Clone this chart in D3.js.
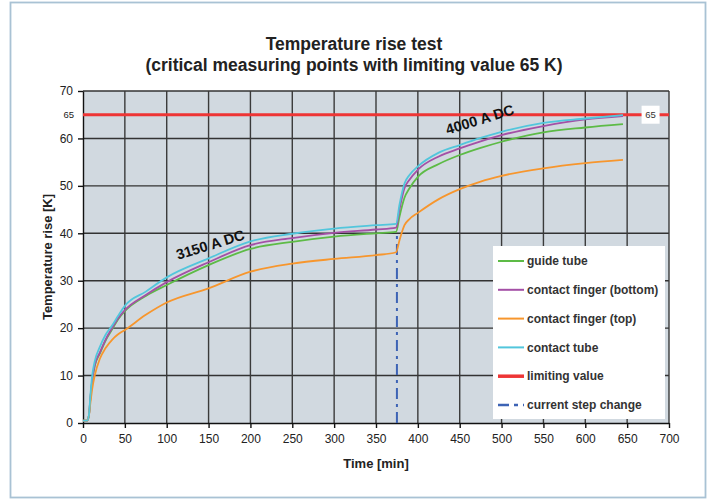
<!DOCTYPE html>
<html>
<head>
<meta charset="utf-8">
<script src="https://cdn.jsdelivr.net/npm/d3@7"></script>
<style>
  body { margin: 0; background: #fff; }
  svg { display: block; font-family: "Liberation Sans", Arial, sans-serif; }
</style>
</head>
<body>
<svg id="chart"></svg>
<script>
// time axis (min) shared by all measured series
const timeMin = [0, 5, 7, 9, 11, 14, 20, 27, 35, 42, 50, 75, 100, 150, 200, 250, 300, 350, 374, 378, 384, 390, 400, 425, 450, 475, 500, 550, 600, 645];

const guideTube =     [0.5, 0.5, 1.5, 5.5, 8.8, 12.0, 14.6, 17.4, 19.8, 21.9, 23.6, 26.8, 29.1, 33.3, 36.7, 38.2, 39.3, 40.0, 40.3, 43.5, 47.5, 49.5, 51.9, 54.6, 56.5, 58.0, 59.3, 61.3, 62.3, 63.0];
const fingerBottom =  [0.5, 0.5, 1.5, 5.6, 9.0, 12.2, 14.8, 17.6, 20.1, 22.1, 23.8, 27.0, 29.7, 33.9, 37.5, 39.0, 40.1, 40.8, 41.2, 45.0, 49.5, 51.3, 53.4, 56.2, 57.9, 59.4, 60.7, 62.6, 64.0, 64.7];
const fingerTop =     [0.5, 0.5, 1.5, 4.5, 7.2, 10.0, 13.5, 15.8, 17.6, 18.7, 19.6, 22.8, 25.4, 28.4, 31.9, 33.6, 34.6, 35.4, 36.0, 38.5, 41.7, 43.0, 44.3, 47.2, 49.3, 50.9, 52.1, 53.7, 54.8, 55.5];
const contactTube =   [0.5, 0.5, 1.6, 6.2, 10.0, 13.0, 16.0, 18.6, 20.6, 22.6, 24.7, 27.7, 30.7, 34.7, 38.3, 39.9, 41.0, 41.7, 42.0, 46.0, 50.5, 52.3, 54.1, 57.0, 58.6, 60.1, 61.4, 63.3, 64.2, 64.9];

const limitValue = 65;
const stepTime = 375;
const stepTop = 40;

const xTicks = d3.range(0, 701, 50);
const yTicks = d3.range(0, 71, 10);

const seriesNames = ["guide tube", "contact finger (bottom)", "contact finger (top)", "contact tube"];
const seriesColors = ["#5dbb46", "#a450a6", "#f7962d", "#52c6dc"];
const seriesValues = [guideTube, fingerBottom, fingerTop, contactTube];

const W = 713, H = 500;
const margin = { top: 91, right: 44, bottom: 77, left: 83 };
const width = W - margin.left - margin.right;
const height = H - margin.top - margin.bottom;

const svg = d3.select("#chart").attr("width", W).attr("height", H);

// outer frame
svg.append("rect")
  .attr("x", 10.5).attr("y", 2.5)
  .attr("width", 695).attr("height", 495)
  .attr("fill", "#fff")
  .attr("stroke", "#a9c2d4")
  .attr("stroke-width", 1.8);

svg.append("text")
  .attr("x", 354).attr("y", 50)
  .attr("text-anchor", "middle")
  .attr("font-size", 17.5).attr("font-weight", "bold").attr("fill", "#222")
  .text("Temperature rise test");
svg.append("text")
  .attr("x", 354).attr("y", 71)
  .attr("text-anchor", "middle")
  .attr("font-size", 17.5).attr("font-weight", "bold").attr("fill", "#222")
  .text("(critical measuring points with limiting value 65 K)");

const chart = svg.append("g")
  .attr("transform", `translate(${margin.left},${margin.top})`);

const x = d3.scaleLinear().domain([0, 700]).range([0, width]);
const y = d3.scaleLinear().domain([0, 70]).range([height, 0]);

chart.append("rect")
  .attr("width", width).attr("height", height)
  .attr("fill", "#d1d9e0");

// grid
chart.append("g").selectAll("line")
  .data(yTicks.filter(d => d > 0))
  .join("line")
  .attr("x1", 0).attr("x2", width)
  .attr("y1", d => y(d)).attr("y2", d => y(d))
  .attr("stroke", "#333").attr("stroke-width", 1.4);

chart.append("g").selectAll("line")
  .data(xTicks.filter(d => d > 0))
  .join("line")
  .attr("x1", d => x(d)).attr("x2", d => x(d))
  .attr("y1", 0).attr("y2", height)
  .attr("stroke", "#3a3a3a").attr("stroke-width", 1.4);

// axes
const xAxis = chart.append("g")
  .attr("transform", `translate(0,${height})`)
  .call(d3.axisBottom(x).tickValues(xTicks).tickSize(5).tickPadding(6).tickSizeOuter(0));
const yAxis = chart.append("g")
  .call(d3.axisLeft(y).tickValues(yTicks).tickSize(5).tickPadding(5).tickSizeOuter(0));
[xAxis, yAxis].forEach(a => {
  a.selectAll("path, line").attr("stroke", "#111").attr("stroke-width", 1.4);
  a.selectAll("text").attr("font-size", 12).attr("fill", "#222").attr("font-family", "Liberation Sans, Arial, sans-serif");
});

chart.append("text")
  .attr("x", -9).attr("y", y(limitValue))
  .attr("dy", "0.35em")
  .attr("text-anchor", "end")
  .attr("font-size", 9.5).attr("fill", "#222")
  .text(limitValue);

// limiting value
chart.append("line")
  .attr("x1", x(0)).attr("x2", x(700))
  .attr("y1", y(limitValue)).attr("y2", y(limitValue))
  .attr("stroke", "#ee3535").attr("stroke-width", 3);

const lblX = x(678);
chart.append("rect")
  .attr("x", lblX - 9).attr("y", y(limitValue) - 9)
  .attr("width", 18).attr("height", 18)
  .attr("fill", "#fff");
chart.append("text")
  .attr("x", lblX).attr("y", y(limitValue))
  .attr("dy", "0.35em").attr("text-anchor", "middle")
  .attr("font-size", 9.5).attr("fill", "#333")
  .text(limitValue);

// step change marker
chart.append("line")
  .attr("x1", x(stepTime)).attr("x2", x(stepTime))
  .attr("y1", y(0)).attr("y2", y(stepTop))
  .attr("stroke", "#3d63b5").attr("stroke-width", 2)
  .attr("stroke-dasharray", "11,5,3,5");

// measured series
const line = d3.line()
  .x((d, i) => x(timeMin[i]))
  .y(d => y(d))
  .curve(d3.curveMonotoneX);

seriesValues.forEach((vals, k) => {
  chart.append("path")
    .datum(vals)
    .attr("fill", "none")
    .attr("stroke", seriesColors[k])
    .attr("stroke-width", 1.8)
    .attr("d", line);
});

// annotations
chart.append("text")
  .attr("transform", `translate(${x(152)},${y(37.6)}) rotate(-17)`)
  .attr("text-anchor", "middle").attr("dy", "0.35em")
  .attr("font-size", 14.5).attr("font-weight", "bold").attr("fill", "#111")
  .text("3150 A DC");
chart.append("text")
  .attr("transform", `translate(${x(474)},${y(64)}) rotate(-17)`)
  .attr("text-anchor", "middle").attr("dy", "0.35em")
  .attr("font-size", 14.5).attr("font-weight", "bold").attr("fill", "#111")
  .text("4000 A DC");

// axis titles
svg.append("text")
  .attr("transform", `translate(47,${margin.top + height / 2}) rotate(-90)`)
  .attr("text-anchor", "middle").attr("dy", "0.35em")
  .attr("font-size", 13).attr("font-weight", "bold").attr("fill", "#222")
  .text("Temperature rise [K]");
svg.append("text")
  .attr("x", margin.left + width / 2).attr("y", 463)
  .attr("dy", "0.35em").attr("text-anchor", "middle")
  .attr("font-size", 13).attr("font-weight", "bold").attr("fill", "#222")
  .text("Time [min]");

// legend
const legendItems = seriesNames.map((n, i) => ({ name: n, color: seriesColors[i], width: 2, dash: null }))
  .concat([
    { name: "limiting value", color: "#ee3535", width: 3.5, dash: null },
    { name: "current step change", color: "#3d63b5", width: 2.5, dash: "11,5,4,5" }
  ]);

const legend = svg.append("g").attr("transform", "translate(493,246)");
legend.append("rect")
  .attr("width", 172).attr("height", 173)
  .attr("fill", "#fff");
const rows = legend.selectAll("g.row")
  .data(legendItems)
  .join("g")
  .attr("class", "row")
  .attr("transform", (d, i) => `translate(0,${15 + i * 28.8})`);
rows.append("line")
  .attr("x1", 5).attr("x2", 31)
  .attr("stroke", d => d.color)
  .attr("stroke-width", d => d.width)
  .attr("stroke-dasharray", d => d.dash);
rows.append("text")
  .attr("x", 34).attr("dy", "0.35em")
  .attr("font-size", 12).attr("font-weight", "bold").attr("fill", "#333")
  .text(d => d.name);
</script>
</body>
</html>
